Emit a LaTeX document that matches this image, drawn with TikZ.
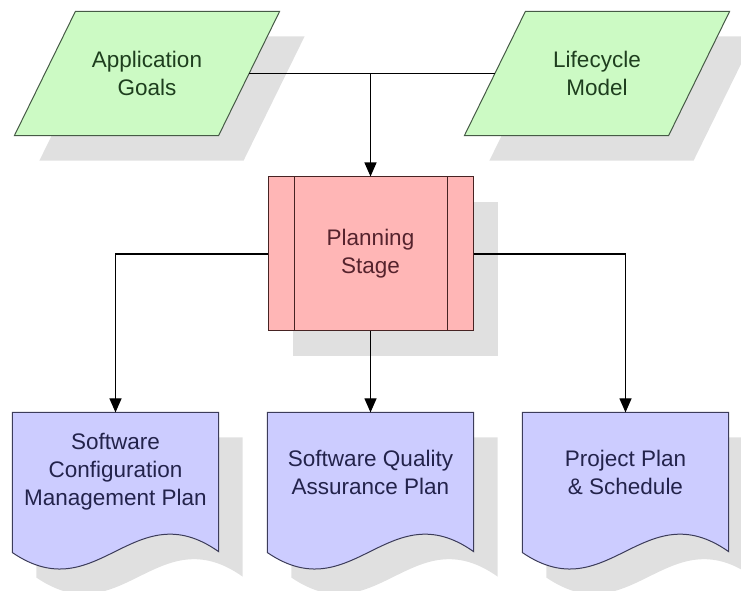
\documentclass[tikz,border=0pt]{standalone}
\usepackage{fontspec}
\setmainfont{Liberation Sans}
\usetikzlibrary{arrows.meta,shadows,backgrounds}

\definecolor{infill}{RGB}{204,250,196}
\definecolor{inline}{RGB}{70,90,70}
\definecolor{intext}{RGB}{30,62,30}
\definecolor{stagefill}{RGB}{255,182,182}
\definecolor{stageline}{RGB}{70,35,35}
\definecolor{stagetext}{RGB}{85,35,45}
\definecolor{docfill}{RGB}{204,204,255}
\definecolor{docline}{RGB}{60,60,90}
\definecolor{doctext}{RGB}{35,35,75}
\definecolor{shadowgray}{RGB}{224,224,224}

\begin{document}
\begin{tikzpicture}[x=1pt,y=1pt,>={Triangle[width=12pt,length=14pt]},line width=1.2pt,node distance=450pt,
  every node/.style={font=\fontsize{22.5}{28}\selectfont,align=center},
  castshadow/.style={drop shadow={shadow xshift=25pt,shadow yshift=-25pt,fill=shadowgray,opacity=1}},
  datain/.style={rectangle,minimum width=203pt,minimum height=123pt,inner sep=0pt,text=intext},
  stage/.style={rectangle,minimum width=205pt,minimum height=154pt,draw=stageline,line width=1pt,fill=stagefill,text=stagetext,castshadow,
    path picture={
      \draw[stageline,line width=1pt] ([xshift=26pt]path picture bounding box.north west) -- ([xshift=26pt]path picture bounding box.south west);
      \draw[stageline,line width=1pt] ([xshift=-26pt]path picture bounding box.north east) -- ([xshift=-26pt]path picture bounding box.south east);
    }},
  doc/.style={rectangle,minimum width=205pt,minimum height=118pt,inner sep=0pt,text=doctext}]
  \useasboundingbox (0,0) rectangle (741,591);

  \node[datain] (goals) at (147,517.5) {Application\\Goals};
  \node[datain] (life) [right of=goals] {Lifecycle\\Model};
  \node[stage]  (plan) at (370.5,337) {Planning\\Stage};
  \node[doc]    (sqa)  at (370.5,119) {Software Quality\\Assurance Plan};
  \node[doc]    (scm)  [left of=sqa,node distance=255pt] {Software\\Configuration\\Management Plan};
  \node[doc]    (pp)   [right of=sqa,node distance=255pt] {Project Plan\\\& Schedule};

  \begin{scope}[on background layer]
    % slanted input boxes
    \foreach \n in {goals,life}
      \fill[shadowgray,transform canvas={shift={(25pt,-25pt)}}] ([xshift=-30.5pt]\n.south west) -- ([xshift=-30.5pt]\n.south east)
        -- ([xshift=30.5pt]\n.north east) -- ([xshift=30.5pt]\n.north west) -- cycle;
    \foreach \n in {goals,life}
      \filldraw[fill=infill,draw=inline,line width=1pt] ([xshift=-30.5pt]\n.south west) -- ([xshift=-30.5pt]\n.south east)
        -- ([xshift=30.5pt]\n.north east) -- ([xshift=30.5pt]\n.north west) -- cycle;
    % document sheets with a wavy lower edge
    \foreach \n in {scm,sqa,pp}
      \fill[shadowgray,transform canvas={shift={(24pt,-25pt)}}] (\n.north west) -- (\n.north east) -- ([yshift=-20pt]\n.south east)
        .. controls +(-85,60) and +(85,-58) .. ([yshift=-21pt]\n.south west) -- cycle;
    \foreach \n in {scm,sqa,pp}
      \filldraw[fill=docfill,draw=docline,line width=1pt] (\n.north west) -- (\n.north east) -- ([yshift=-20pt]\n.south east)
        .. controls +(-85,60) and +(85,-58) .. ([yshift=-21pt]\n.south west) -- cycle;
  \end{scope}

  \draw (goals.east) -- (life.west);
  \draw[->] (goals.east -| plan.north) -- (plan);
  \draw[->] (plan.west) -| (scm);
  \draw[->] (plan) -- (sqa);
  \draw[->] (plan.east) -| (pp);
\end{tikzpicture}
\end{document}
